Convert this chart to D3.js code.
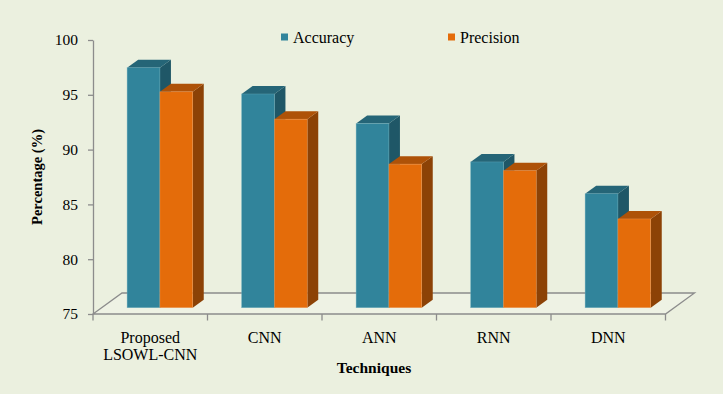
<!DOCTYPE html>
<html><head><meta charset="utf-8">
<script src="https://cdn.jsdelivr.net/npm/d3@7"></script>
<style>html,body{margin:0;padding:0;background:#EBF0DF;}svg{display:block;}</style>
</head><body>
<script>
const categories = [["Proposed","LSOWL-CNN"],["CNN"],["ANN"],["RNN"],["DNN"]];
const seriesNames = ["Accuracy","Precision"];
const accuracy = [96.9, 94.5, 91.8, 88.3, 85.4];
const precision = [94.7, 92.2, 88.1, 87.5, 83.1];
const yTicks = [75, 80, 85, 90, 95, 100];

const W = 723, H = 394;
const colors = {
  Accuracy: {front:"#31849B", top:"#256577", side:"#1F5767", edge:"#6FB0C2"},
  Precision:{front:"#E46C0A", top:"#AE5208", side:"#8C4206", edge:"#F0A060"}
};
const svg = d3.select("body").append("svg").attr("width",W).attr("height",H);
svg.append("rect").attr("width",W).attr("height",H).attr("fill","#EBF0DF");

const x = d3.scaleBand().domain(d3.range(categories.length)).range([93, 665.5]).padding(0);
const y = d3.scaleLinear().domain([75,100]).range([314,40]);
const bw = x.bandwidth();
const sub = d3.scaleBand().domain(seriesNames).range([0.222*bw, 0.795*bw]).padding(0);
const depth = {dx:29, dy:-21};
const f0 = 0.30, f1 = 0.68;
const grey = "#8C8C8C";
const font = "'Liberation Serif','Times New Roman',serif";

// floor
const x0 = x.range()[0], x1 = x.range()[1];
svg.append("path")
  .attr("d", `M${x0},${y(75)}L${x0+depth.dx},${y(75)+depth.dy}L${x1+depth.dx},${y(75)+depth.dy}L${x1},${y(75)}Z`)
  .attr("fill","#EEF2E4").attr("stroke",grey).attr("stroke-width",1.3);

// y axis
const yAxis = d3.axisLeft(y).tickValues(yTicks).tickSize(5).tickSizeOuter(0).tickPadding(10);
const gy = svg.append("g").attr("transform",`translate(${x0},0)`).call(yAxis);
gy.select(".domain").attr("stroke",grey).attr("stroke-width",1.3);
gy.selectAll(".tick line").attr("stroke",grey).attr("stroke-width",1.3);
gy.selectAll(".tick text").attr("font-family",font).attr("font-size",15.5).attr("fill","#000");

// x axis ticks
const bounds = d3.range(categories.length+1).map(i => i===categories.length ? x1 : x(i));
svg.selectAll(".xt").data(bounds).join("line")
  .attr("x1",d=>d).attr("x2",d=>d).attr("y1",y(75)).attr("y2",y(75)+6.5)
  .attr("stroke",grey).attr("stroke-width",1.3);

// x labels
categories.forEach((lines,i)=>{
  const t = svg.append("text").attr("x", x(i)+bw/2).attr("y",343)
    .attr("text-anchor","middle").attr("font-family",font).attr("font-size",16).attr("fill","#000");
  lines.forEach((l,j)=>t.append("tspan").attr("x",x(i)+bw/2).attr("dy", j===0?0:17).text(l));
});

// bars
const data = {Accuracy: accuracy, Precision: precision};
categories.forEach((c,i)=>{
  seriesNames.forEach(s=>{
    const v = data[s][i];
    const c0 = colors[s];
    const ax = x(i) + sub(s) + f0*depth.dx;
    const bx = ax + sub.bandwidth();
    const oy = f0*depth.dy;
    const yb = y(75) + oy, yt = y(v) + oy;
    const ddx = (f1-f0)*depth.dx, ddy = (f1-f0)*depth.dy;
    svg.append("path").attr("d",`M${bx},${yb}L${bx+ddx},${yb+ddy}L${bx+ddx},${yt+ddy}L${bx},${yt}Z`).attr("fill",c0.side);
    svg.append("path").attr("d",`M${ax},${yt}L${ax+ddx},${yt+ddy}L${bx+ddx},${yt+ddy}L${bx},${yt}Z`).attr("fill",c0.top);
    svg.append("rect").attr("x",ax).attr("y",yt).attr("width",bx-ax).attr("height",yb-yt)
      .attr("fill",c0.front).attr("stroke",c0.edge).attr("stroke-width",0.6).attr("stroke-opacity",0.6);
  });
});

// axis titles
svg.append("text").attr("transform","translate(42,177) rotate(-90)").attr("text-anchor","middle")
  .attr("font-family",font).attr("font-size",14.5).attr("font-weight","bold").text("Percentage (%)");
svg.append("text").attr("x",374).attr("y",373).attr("text-anchor","middle")
  .attr("font-family",font).attr("font-size",15.5).attr("font-weight","bold").text("Techniques");

// legend
const legX = [281, 448];
seriesNames.forEach((s,i)=>{
  svg.append("rect").attr("x",legX[i]).attr("y",33.5).attr("width",7).attr("height",7).attr("fill",colors[s].front);
  svg.append("text").attr("x",legX[i]+12).attr("y",43).attr("font-family",font).attr("font-size",16).attr("fill","#000").text(s);
});
</script>
</body></html>
